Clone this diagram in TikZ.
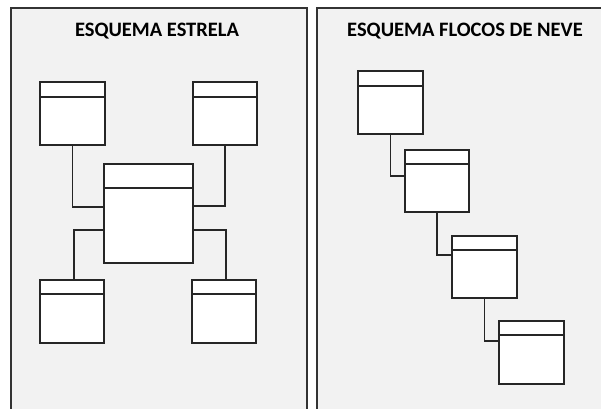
\documentclass[tikz,border=0pt]{standalone}
\usepackage{fontspec}
\setmainfont{Carlito}
\usetikzlibrary{calc}

\definecolor{fundo}{HTML}{F2F2F2}
\definecolor{borda}{HTML}{333333}

\tikzset{
    painel/.style = {fill = fundo, draw = borda, line width = 2pt},
    titulo/.style = {font = \fontsize{20.5}{23}\selectfont\bfseries, text = black},
    tabela/.style = {
        rectangle,
        draw = black!85,
        fill = white,
        line width = 1.3pt,
        inner sep = 0pt,
        minimum width = 64pt,
        minimum height = 63pt,
        path picture = {
            \draw[black!85, line width = 1.3pt]
            ($(path picture bounding box.north west) + (0,#1)$) --
            ($(path picture bounding box.north east) + (0,#1)$);
        }
    },
    tabela/.default = 15,
    liga/.style = {draw = black!85, line width = 1.3pt}
}

\begin{document}
\begin{tikzpicture}[x = 1pt, y = -1pt]
    \useasboundingbox (0,0) rectangle (601,408);
    \clip (0,0) rectangle (601,408);

    % paineis
    \draw[painel] (11,8) rectangle (307,420);
    \draw[painel] (317,8) rectangle (615,420);

    \node[titulo] (t1) at (157,31){ESQUEMA ESTRELA};
    \node[titulo] (t2) at (465,31){ESQUEMA FLOCOS DE NEVE};

    % esquema estrela
    \node[
    tabela = 24,
    minimum width = 89pt,
    minimum height = 99pt
    ] (centro) at (148.5,213.5){};
    \node[tabela, minimum width = 65pt] (d1) at (72.5,113.5){};
    \node[tabela] (d2) at (225,113.5){};
    \node[tabela = 14] (d3) at (72,311.5){};
    \node[tabela = 14] (d4) at (224,311.5){};

    \draw[liga] (d1.south) |- ([yshift = 6.5pt]centro.west);
    \draw[liga] (d2.south) |- ([yshift = 7.5pt]centro.east);
    \draw[liga] ([yshift = -16.5pt]centro.west) -| ([xshift = 2pt]d3.north);
    \draw[liga] ([yshift = -16.5pt]centro.east) -| ([xshift = 2pt]d4.north);

    % esquema flocos de neve
    \node[tabela, minimum width = 65pt] (f1) at (390.5,102.5){};
    \node[tabela = 14, minimum height = 62pt] (f2) at (437,181){};
    \node[tabela = 14, minimum width = 65pt, minimum height = 62pt] (f3) at (484.5,267){};
    \node[tabela = 14, minimum width = 65pt] (f4) at (531.5,352.5){};

    \draw[liga] (f1.south) |- ([yshift = 5pt]f2.west);
    \draw[liga] (f2.south) |- ([yshift = 12pt]f3.west);
    \draw[liga] (f3.south) |- ([yshift = 11.5pt]f4.west);
\end{tikzpicture}
\end{document}
